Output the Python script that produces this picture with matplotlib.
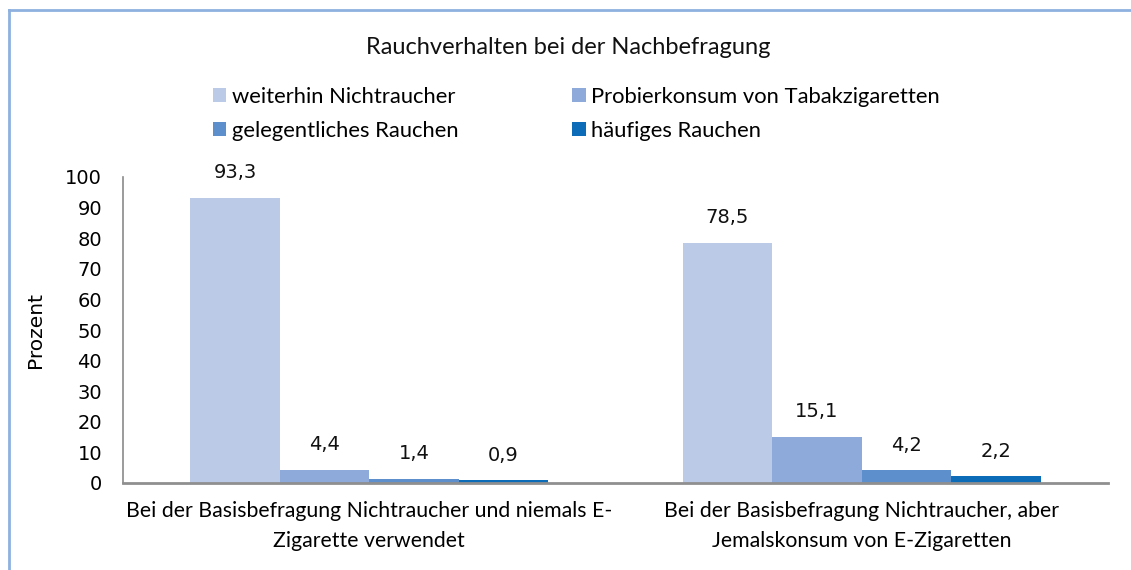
import matplotlib
matplotlib.use("Agg")
import matplotlib.pyplot as plt
from matplotlib.lines import Line2D
from matplotlib.patches import Patch
import numpy as np

categories = ["Bei der Basisbefragung Nichtraucher und niemals E-\nZigarette verwendet",
              "Bei der Basisbefragung Nichtraucher, aber\nJemalskonsum von E-Zigaretten"]
series = ["weiterhin Nichtraucher", "Probierkonsum von Tabakzigaretten",
          "gelegentliches Rauchen", "häufiges Rauchen"]
values = [
    [93.3, 78.5],
    [4.4, 15.1],
    [1.4, 4.2],
    [0.9, 2.2],
]
colors = ["#BACAE7", "#8DAADA", "#5C8FCB", "#0C6CB7"]
yticks = [0, 10, 20, 30, 40, 50, 60, 70, 80, 90, 100]

W, H = 1131, 570
fig = plt.figure(figsize=(W / 100, H / 100), dpi=100)
ax = fig.add_axes([123 / W, 1 - 483 / H, (1108 - 123) / W, (483 - 177) / H])

sans = ["Lato", "DejaVu Sans"]
num = ["DejaVu Sans"]

n = len(series)
bw = 1 / (n + 1.5)
x = np.arange(len(categories))
for i, (s, vals, c) in enumerate(zip(series, values, colors)):
    pos = x + (i - (n - 1) / 2) * bw
    ax.bar(pos, vals, width=bw, color=c, edgecolor="none", label=s, zorder=2)
    for p, v in zip(pos, vals):
        ax.annotate(f"{v:.1f}".replace(".", ","), (p, v), xytext=(0, 18),
                    textcoords="offset points", ha="center", va="center",
                    fontsize=14, family=num, color="#111111")

ax.set_xlim(-0.5, 1.5)
ax.set_ylim(0, 100)
ax.set_yticks(yticks)
ax.set_yticklabels([str(t) for t in yticks], fontsize=14, family=num)
ax.tick_params(axis="y", length=0, pad=15)
ax.set_xticks(x)
ax.set_xticklabels(categories, fontsize=15.3, family=sans, linespacing=1.6)
ax.tick_params(axis="x", length=0, pad=13)
ax.set_ylabel("Prozent", fontsize=14.5, family=num)
ax.yaxis.set_label_coords(-0.0795, 0.5)

for side in ["top", "right"]:
    ax.spines[side].set_visible(False)
ax.spines["left"].set_color("#8a8a8a")
ax.spines["left"].set_linewidth(1.2)
ax.spines["bottom"].set_color("#8f8f8f")
ax.spines["bottom"].set_linewidth(2)

fig.text(568 / W, 1 - 47 / H, "Rauchverhalten bei der Nachbefragung", ha="center",
         va="center", fontsize=17, family=sans, color="#111111")

order = [0, 2, 1, 3]
handles = [Patch(facecolor=colors[k], edgecolor="none") for k in order]
labels = [series[k] for k in order]
leg = fig.legend(handles, labels, ncol=2, loc="upper left",
                 bbox_to_anchor=(213 / W, 1 - 87 / H), frameon=False,
                 prop={"family": "Lato", "size": 15.8}, handlelength=0.6,
                 handleheight=0.6, handletextpad=0.25, columnspacing=5.2,
                 labelspacing=0.62, borderaxespad=0, borderpad=0)

# outer frame (left and top visible)
fig.add_artist(Line2D([8.5 / W, 8.5 / W], [0, 1 - 10 / H], transform=fig.transFigure,
                      color="#8EB1DF", lw=2))
fig.add_artist(Line2D([8.5 / W, 1.0], [1 - 10 / H, 1 - 10 / H], transform=fig.transFigure,
                      color="#8EB1DF", lw=2))

fig.savefig("out.png", dpi=100)
